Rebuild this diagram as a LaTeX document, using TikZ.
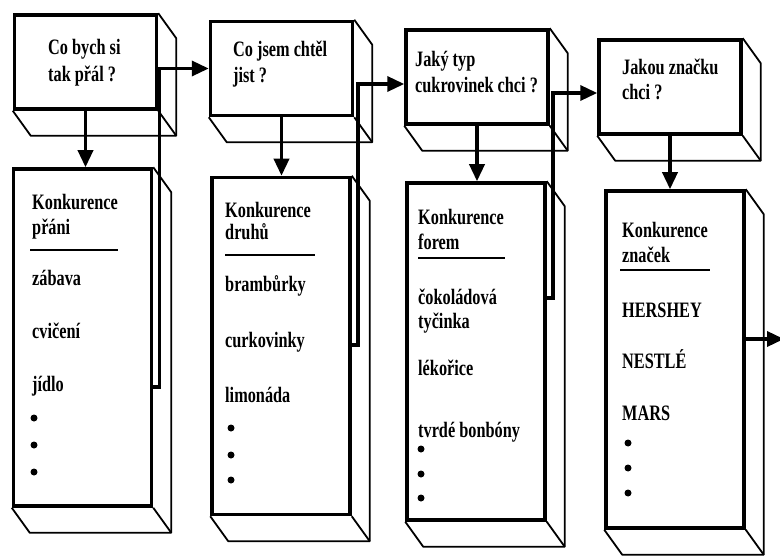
\documentclass[tikz,border=0pt]{standalone}
\usepackage{fontspec}
\setmainfont{Liberation Serif}[FakeStretch=0.74]
\usetikzlibrary{arrows.meta, calc}

\tikzset{
  front/.style={draw, line width=3.5pt, fill=white, minimum width=142pt, minimum height=94pt, inner sep=0pt},
  column/.style={front, minimum width=138pt, minimum height=337pt},
  depthline/.style={line width=1.8pt, line join=round},
  conn/.style={line width=3.5pt},
  tip/.style={-{Triangle[length=17pt,width=15pt]}},
  txt/.style={anchor=base west, inner sep=0pt, font=\fontsize{22}{26}\selectfont\bfseries},
  rule/.style={line width=1.3pt}
}
\newcommand{\boxdepth}[1]{%
  \draw[depthline] (#1.north east) -- ++(18,25) |- ($(#1.south west)+(18,25)$) -- (#1.south west);
  \draw[depthline] (#1.south east) -- ++(18,25);
}

\begin{document}
\begin{tikzpicture}[x=1pt, y=-1pt]
\useasboundingbox[fill=white] (0,0) rectangle (780,559);

% === QUESTION BOXES ===
\node[front] (q1) at (85.5,62) {};
\node[front] (q2) at (281.5,68.5) {};
\node[front] (q3) at (477,77) {};
\node[front] (q4) at (670,87) {};
\foreach \q in {q1,q2,q3,q4} {\boxdepth{\q}}

\node[txt] (q1a) at (48,55) {Co bych si};
\node[txt] (q1b) at (48,82) {tak přál ?};
\node[txt] (q2a) at (233,57) {Co jsem chtěl};
\node[txt] (q2b) at (233,83) {jist ?};
\node[txt] (q3a) at (415,67) {Jaký typ};
\node[txt] (q3b) at (415,93) {cukrovinek chci ?};
\node[txt] (q4a) at (622,75) {Jakou značku};
\node[txt] (q4b) at (622,100) {chci ?};

% === COMPETITION COLUMNS ===
\node[column] (k1) at (82.5,337.5) {};
\node[column] (k2) at (281,346) {};
\node[column] (k3) at (476,351.5) {};
\node[column] (k4) at (675,359.5) {};
\foreach \k in {k1,k2,k3,k4} {\boxdepth{\k}}

% column 1
\node[txt] (k1h) at (32,210) {Konkurence};
\node[txt] (k1s) at (32,234) {přáni};
\draw[rule] (30,250) -- (118,250);
\node[txt] (k1a) at (32,286) {zábava};
\node[txt] (k1b) at (32,338) {cvičení};
\node[txt] (k1c) at (32,391) {jídlo};
\foreach \y in {418,445,472} \fill (34,\y) circle (3.5pt);

% column 2
\node[txt] (k2h) at (225,218) {Konkurence};
\node[txt] (k2s) at (225,240) {druhů};
\draw[rule] (225,255) -- (315,255);
\node[txt] (k2a) at (225,291) {brambůrky};
\node[txt] (k2b) at (225,347) {curkovinky};
\node[txt] (k2c) at (225,402) {limonáda};
\foreach \y in {428,455,480} \fill (231,\y) circle (3.5pt);

% column 3
\node[txt] (k3h) at (418,225) {Konkurence};
\node[txt] (k3s) at (418,250) {forem};
\draw[rule] (418,258) -- (505,258);
\node[txt] (k3a) at (418,305) {čokoládová};
\node[txt] (k3b) at (418,328) {tyčinka};
\node[txt] (k3c) at (418,375) {lékořice};
\node[txt] (k3d) at (418,437) {tvrdé bonbóny};
\foreach \y in {449,474,498} \fill (421,\y) circle (3.5pt);

% column 4
\node[txt] (k4h) at (622,238) {Konkurence};
\node[txt] (k4s) at (622,262) {značek};
\draw[rule] (620,270) -- (710,270);
\node[txt] (k4a) at (622,317) {HERSHEY};
\node[txt] (k4b) at (622,368) {NESTLÉ};
\node[txt] (k4c) at (622,420) {MARS};
\foreach \y in {443,468,493} \fill (628,\y) circle (3.5pt);

% === CONNECTORS ===
\foreach \i in {1,2,3,4} {\draw[conn,tip] (q\i.south) -- (q\i.south |- k\i.north);}
\draw[conn,tip] (k1.east |- 0,387) -- ++(6,0) |- (q2.west);
\draw[conn,tip] (k2.east |- 0,345) -- ++(6,0) |- ($(q3.west)+(0,7)$);
\draw[conn,tip] (k3.east |- 0,298) -- ++(6,0) |- ($(q4.west)+(0,6)$);
\coordinate (exit) at (784,339);
\draw[conn,tip] (k4.east |- exit) -- (exit);

\end{tikzpicture}
\end{document}
